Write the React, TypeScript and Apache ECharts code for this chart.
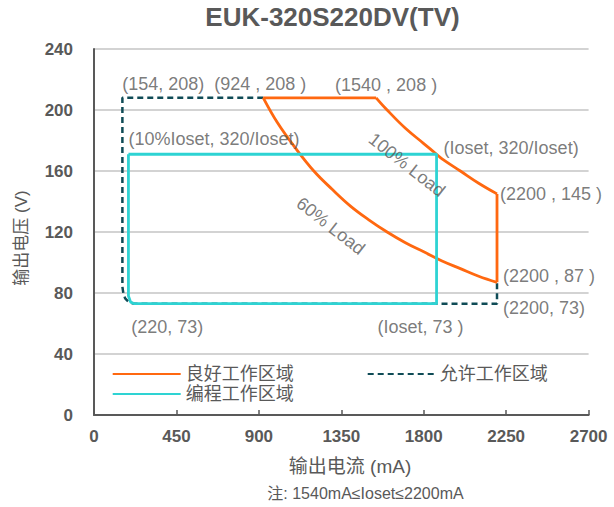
import React, { useEffect, useRef } from "react";
import * as echarts from "echarts";

// ---- data ----
const titleText = "EUK-320S220DV(TV)";
const xAxisName = "输出电流 (mA)";
const yAxisName = "输出电压 (V)";
const noteText = "注: 1540mA≤Ioset≤2200mA";

const xMin = 0;
const xMax = 2700;
const xStep = 450;
const yMin = 0;
const yMax = 240;
const yStep = 40;

const goodName = "良好工作区域";
const allowName = "允许工作区域";
const progName = "编程工作区域";

// good area pieces
const goodTop: number[][] = [[924, 208], [1540, 208]];
const goodLoad100: number[][] = [
  [1540, 208], [1600, 200], [1700, 188], [1800, 178], [1870, 171],
  [1900, 168], [2000, 160], [2100, 152], [2200, 145],
];
const goodEdge: number[][] = [[2200, 145], [2200, 87]];
const goodLoad60: number[][] = [
  [2200, 87], [2100, 91], [2000, 96], [1900, 101], [1800, 107], [1700, 113],
  [1600, 120], [1500, 128], [1400, 137], [1300, 148], [1200, 160], [1100, 175],
  [1000, 192], [924, 208],
];

// allowed area (dashed)
const allowArea: number[][] = [
  [924, 208], [155, 208], [155, 84], [160, 80], [170, 76.5], [190, 74], [220, 73],
  [2200, 73], [2200, 87],
];

// programmable area
const progArea: number[][] = [
  [188, 171], [1870, 171], [1870, 73], [220, 73], [200, 74], [188, 78], [188, 171],
];

const annotationTexts = [
  "(154, 208)", "(924 , 208 )", "(1540 , 208 )", "(10%Ioset, 320/Ioset)",
  "(Ioset, 320/Ioset)", "(2200 , 145 )", "(2200 , 87 )", "(2200, 73)",
  "(220, 73)", "(Ioset, 73 )", "100% Load", "60% Load",
];
const annotationPoints: number[][] = [
  [154, 208], [924, 208], [1540, 208], [188, 171],
  [1870, 171], [2200, 145], [2200, 87], [2200, 73],
  [220, 73], [1870, 73], [1708, 164], [1292, 124],
];

// ---- layout / style for annotations (align, dx, dy, rotate) ----
const annotationLayout: [string, number, number, number][] = [
  ["left", 0, -14, 0],
  ["center", -3, -14, 0],
  ["center", 10, -13, 0],
  ["left", 0, -15, 0],
  ["left", 7, -6, 0],
  ["left", 3, 0, 0],
  ["left", 6, -6, 0],
  ["left", 6, 4, 0],
  ["left", -3, 23, 0],
  ["center", -16, 23, 0],
  ["center", 0, 0, -38],
  ["center", 0, 0, -38],
];

const TEXT = "#595959";
const ORANGE = "#FF6810";
const CYAN = "#2ED3D3";
const DARK = "#0F4B56";
const LATIN = "'Liberation Sans', Arial, 'Noto Sans CJK SC', sans-serif";
const CJK = "'Liberation Sans', 'Noto Sans CJK SC', sans-serif";

export default function App() {
  const ref = useRef<HTMLDivElement>(null);
  useEffect(() => {
    if (!ref.current) return;
    const chart = echarts.init(ref.current, undefined, { renderer: "svg" });

    const labelData = annotationPoints.map((p, i) => {
      const [align, dx, dy, rot] = annotationLayout[i];
      return {
        value: p,
        label: {
          show: true,
          formatter: annotationTexts[i],
          position: "inside",
          align,
          verticalAlign: "middle",
          offset: [dx, dy],
          rotate: rot,
          color: TEXT,
          fontSize: 18,
          fontFamily: LATIN,
        },
      };
    });

    const legendText = { color: TEXT, fontSize: 18, fontFamily: CJK };
    const orangeStyle = { color: ORANGE, width: 2.8 };

    const orangeSeries = (data: number[][], smooth: boolean) => ({
      name: goodName,
      type: "line",
      data,
      symbol: "none",
      smooth: smooth ? 0.4 : false,
      z: 3,
      lineStyle: orangeStyle,
      itemStyle: { color: ORANGE },
    });

    const legendBase = {
      padding: 0,
      itemHeight: 14,
      textStyle: legendText,
      itemStyle: { opacity: 0 },
    };

    chart.setOption({
      animation: false,
      backgroundColor: "#ffffff",
      grid: { left: 94, right: 25.4, top: 49, bottom: 92, containLabel: false },
      xAxis: {
        type: "value",
        min: xMin,
        max: xMax,
        interval: xStep,
        axisLine: { show: true, lineStyle: { color: TEXT, width: 2 } },
        axisTick: { show: true, inside: true, length: 5, lineStyle: { color: TEXT, width: 1.5 } },
        splitLine: { show: false },
        axisLabel: {
          color: TEXT, fontSize: 17, fontWeight: "bold", fontFamily: LATIN, margin: 13,
          formatter: (v: number) => String(v),
        },
      },
      yAxis: {
        type: "value",
        min: yMin,
        max: yMax,
        interval: yStep,
        axisLine: { show: true, lineStyle: { color: TEXT, width: 2 } },
        axisTick: { show: false },
        splitLine: { show: true, lineStyle: { color: "#C4C4C4", width: 1.5 } },
        axisLabel: {
          color: TEXT, fontSize: 17, fontWeight: "bold", fontFamily: LATIN, margin: 21,
          formatter: (v: number) => String(v),
        },
      },
      legend: [
        { ...legendBase, data: [goodName], left: 111.7, top: 365, itemWidth: 68 },
        { ...legendBase, data: [allowName], left: 366.7, top: 365, itemWidth: 67 },
        { ...legendBase, data: [progName], left: 111.7, top: 385, itemWidth: 68 },
      ],
      series: [
        {
          name: allowName,
          type: "line",
          data: allowArea,
          symbol: "none",
          z: 2,
          lineStyle: { color: DARK, width: 2.5, type: [6, 4] },
          itemStyle: { color: DARK },
        },
        orangeSeries(goodTop, false),
        orangeSeries(goodLoad100, true),
        orangeSeries(goodEdge, false),
        orangeSeries(goodLoad60, true),
        {
          name: progName,
          type: "line",
          data: progArea,
          symbol: "none",
          z: 4,
          lineStyle: { color: CYAN, width: 2.8 },
          itemStyle: { color: CYAN },
        },
        {
          name: "annotations",
          type: "scatter",
          data: labelData,
          symbolSize: 1,
          itemStyle: { color: "rgba(0,0,0,0)" },
          z: 5,
          silent: true,
        },
      ],
      graphic: [
        {
          type: "text",
          x: 332.5,
          y: 17,
          style: {
            text: titleText, fill: TEXT, font: `bold 26px ${LATIN}`,
            align: "center", verticalAlign: "middle",
          },
        },
        {
          type: "text",
          x: 21.5,
          y: 238,
          rotation: Math.PI / 2,
          style: {
            text: yAxisName, fill: TEXT, font: `17px ${CJK}`,
            align: "center", verticalAlign: "middle",
          },
        },
        {
          type: "text",
          x: 350,
          y: 466,
          style: {
            text: xAxisName, fill: TEXT, font: `19px ${CJK}`,
            align: "center", verticalAlign: "middle",
          },
        },
        {
          type: "text",
          x: 365.5,
          y: 493,
          style: {
            text: noteText, fill: TEXT, font: `16px ${CJK}`,
            align: "center", verticalAlign: "middle",
          },
        },
      ],
    });
    return () => chart.dispose();
  }, []);
  return (
    <div
      ref={ref}
      style={{ position: "fixed", left: 0, top: 0, width: 614, height: 507, background: "#fff" }}
    />
  );
}
